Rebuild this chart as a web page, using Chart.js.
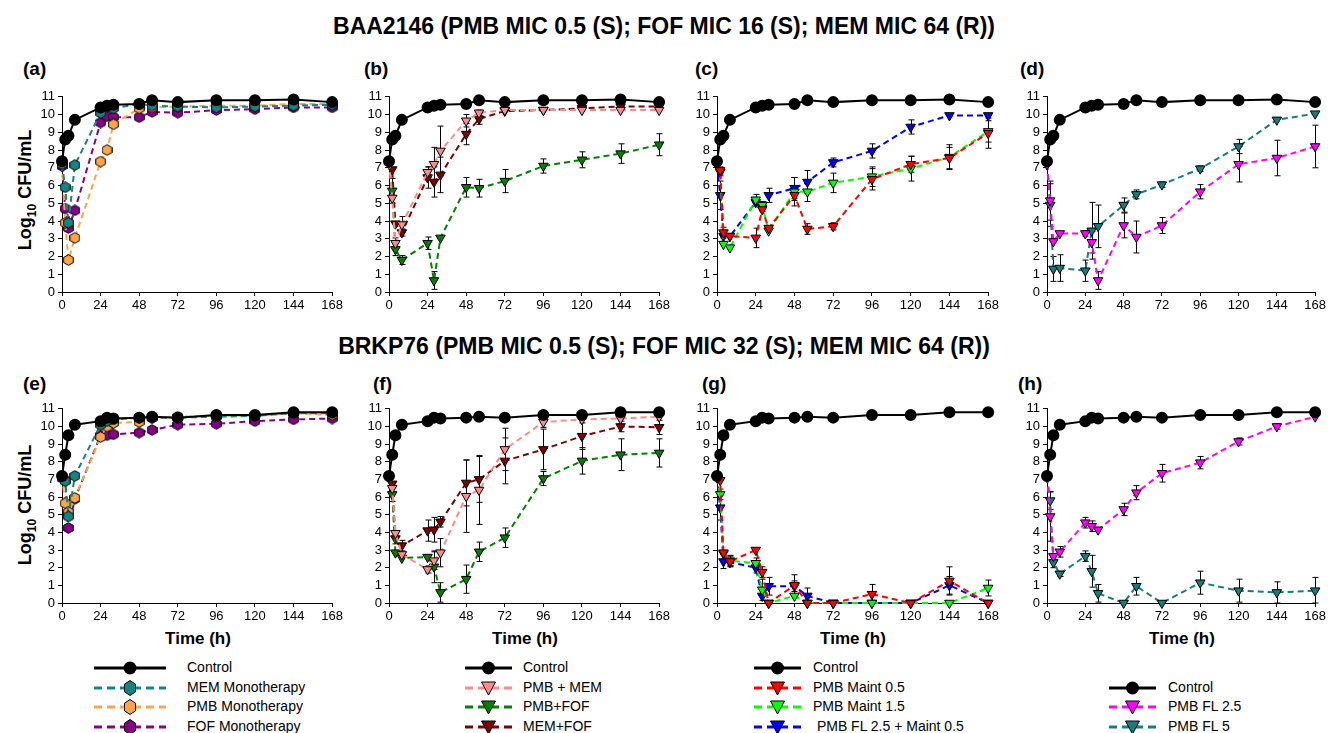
<!DOCTYPE html>
<html>
<head>
<meta charset="utf-8">
<script src="https://cdn.jsdelivr.net/npm/chart.js@4.4.1/dist/chart.umd.min.js"></script>
<style>
  body { margin: 0; width: 1328px; height: 733px; background: #fff; position: relative; overflow: hidden;
         font-family: "Liberation Sans", Arial, sans-serif; color: #000; }
  .abs { position: absolute; white-space: nowrap; }
  .title { font-weight: bold; font-size: 23px; left: 0; width: 1328px; text-align: center; }
  .tag { font-weight: bold; font-size: 19px; }
  .ylab { font-weight: bold; font-size: 18px; transform: translate(-50%, -50%) rotate(-90deg); }
  .xlab { font-weight: bold; font-size: 17px; transform: translateX(-50%); }
  .leg { font-size: 14px; }
  canvas { position: absolute; }
</style>
</head>
<body>
<div class="abs title" style="top:13px">BAA2146 (PMB MIC 0.5 (S); FOF MIC 16 (S); MEM MIC 64 (R))</div>
<div class="abs title" style="top:333px">BRKP76 (PMB MIC 0.5 (S); FOF MIC 32 (S); MEM MIC 64 (R))</div>

<div class="abs tag" style="left:23px;top:58px">(a)</div>
<div class="abs tag" style="left:364px;top:58px">(b)</div>
<div class="abs tag" style="left:695px;top:58px">(c)</div>
<div class="abs tag" style="left:1020px;top:58px">(d)</div>
<div class="abs tag" style="left:23px;top:373px">(e)</div>
<div class="abs tag" style="left:373px;top:373px">(f)</div>
<div class="abs tag" style="left:702px;top:373px">(g)</div>
<div class="abs tag" style="left:1018px;top:373px">(h)</div>

<div class="abs ylab" style="left:27px;top:190px">Log<sub style="font-size:12px">10</sub> CFU/mL</div>
<div class="abs ylab" style="left:27px;top:505px">Log<sub style="font-size:12px">10</sub> CFU/mL</div>

<div class="abs xlab" style="left:198px;top:629px">Time (h)</div>
<div class="abs xlab" style="left:525px;top:629px">Time (h)</div>
<div class="abs xlab" style="left:853px;top:629px">Time (h)</div>
<div class="abs xlab" style="left:1182px;top:629px">Time (h)</div>

<script>
// sampling times (h)
const hours = [0, 2, 4, 8, 24, 28, 32, 48, 56, 72, 96, 120, 144, 168];
const xTicks = [0, 24, 48, 72, 96, 120, 144, 168];

// BAA2146
const baaControl = [7.37, 8.6, 8.8, 9.7, 10.4, 10.5, 10.55, 10.6, 10.8, 10.7, 10.8, 10.8, 10.85, 10.7];
const aMemMono = [7.2, 5.9, 3.9, 7.15, 10.1, 10.45, 10.35, 10.6, 10.5, 10.45, 10.4, 10.45, 10.5, 10.55];
const aPmbMono = [7.2, 3.9, 1.8, 3.05, 7.35, 8.0, 9.45, 10.35, 10.4, 10.45, 10.5, 10.5, 10.6, 10.6];
const aFofMono = [7.1, 4.7, 3.6, 4.6, 9.55, 9.9, 9.85, 9.85, 10.15, 10.1, 10.25, 10.3, 10.4, 10.4];

const bPmbMem = [7.3, 5.3, 2.75, 3.8, 6.75, 7.2, 7.95, 9.65, 10.1, 10.25, 10.25, 10.25, 10.25, 10.25];
const bPmbMemErr = [0, 0, 0.3, 0.45, 0.3, 0.95, 1.4, 0.35, 0.15, 0, 0, 0, 0, 0];
const bPmbFof = [7.3, 5.7, 2.4, 1.8, 2.75, 0.65, 3.05, 5.9, 5.85, 6.25, 7.1, 7.45, 7.8, 8.3];
const bPmbFofErr = [0, 0.7, 0.35, 0.25, 0.35, 0.5, 0, 0.55, 0.5, 0.65, 0.4, 0.45, 0.55, 0.62];
const bMemFof = [7.3, 6.9, 3.85, 3.35, 6.45, 6.2, 6.6, 8.9, 9.75, 10.2, 10.25, 10.35, 10.45, 10.45];
const bMemFofErr = [0, 0, 0, 0.2, 0.6, 0.85, 1.0, 0.6, 0.3, 0, 0, 0, 0, 0];

const cMaint05 = [7.2, 6.85, 3.35, 3.15, 3.05, 4.65, 3.6, 5.45, 3.55, 3.7, 6.35, 7.2, 7.55, 8.95];
const cMaint05Err = [0, 0.2, 0.3, 0, 0.55, 0, 0, 0.3, 0.3, 0.2, 0.6, 0.45, 0.6, 0.85];
const cMaint15 = [7.25, 6.75, 2.7, 2.5, 5.2, 4.9, 3.45, 5.65, 5.65, 6.15, 6.5, 6.95, 7.6, 9.05];
const cMaint15Err = [0, 0.2, 0, 0, 0.3, 0.2, 0, 0.8, 0.55, 0.55, 0.55, 0.7, 0.7, 0.6];
const cFlMaint = [7.15, 5.45, 3.15, 3.15, 5.05, 4.75, 5.45, 5.85, 6.2, 7.3, 7.95, 9.3, 9.95, 9.95];
const cFlMaintErr = [0, 0.8, 0.3, 0, 0, 0.2, 0.4, 0.6, 0.65, 0.25, 0.4, 0.4, 0, 0];

const dFl25 = [7.2, 5.15, 2.85, 3.3, 3.3, 2.8, 0.65, 3.75, 3.1, 3.75, 5.65, 7.2, 7.55, 8.2];
const dFl25Err = [0, 1.1, 0, 0, 0.15, 0.6, 0.5, 0.7, 0.9, 0.45, 0.4, 1.0, 1.0, 1.2];
const dFl5 = [7.2, 4.9, 1.3, 1.35, 1.2, 3.45, 3.7, 4.9, 5.5, 6.05, 6.95, 8.2, 9.7, 10.05];
const dFl5Err = [0, 1.2, 0.7, 0.75, 0.6, 1.6, 1.2, 0.4, 0.25, 0.15, 0.15, 0.4, 0, 0];

// BRKP76
const brkControl = [7.2, 8.4, 9.5, 10.1, 10.3, 10.5, 10.45, 10.5, 10.55, 10.5, 10.65, 10.65, 10.8, 10.8];
const eMemMono = [7.1, 6.9, 4.9, 7.2, 10.1, 10.3, 10.4, 10.5, 10.5, 10.5, 10.55, 10.6, 10.75, 10.75];
const ePmbMono = [7.15, 5.65, 5.15, 5.95, 9.4, 10.0, 10.2, 10.25, 10.5, 10.55, 10.6, 10.6, 10.75, 10.65];
const eFofMono = [7.1, 6.95, 4.25, 5.9, 9.5, 9.5, 9.55, 9.65, 9.8, 10.1, 10.15, 10.3, 10.4, 10.45];

const fPmbMem = [7.2, 6.5, 3.95, 2.75, 1.9, 2.4, 2.85, 6.05, 6.4, 8.7, 10.25, 10.4, 10.45, 10.55];
const fPmbMemErr = [0, 0, 0, 0, 0.2, 0.5, 0.8, 2.05, 1.95, 1.2, 0.3, 0, 0, 0];
const fPmbFof = [7.15, 6.15, 2.85, 2.55, 2.6, 2.05, 0.6, 1.35, 2.9, 3.7, 7.05, 8.05, 8.4, 8.5];
const fPmbFofErr = [0, 0.4, 0, 0, 0, 0.9, 0.55, 0.8, 0.55, 0.55, 0.4, 0.75, 0.9, 0.8];
const fMemFof = [7.2, 6.75, 3.65, 3.25, 4.1, 4.15, 4.6, 6.8, 7.0, 8.05, 8.7, 9.45, 10.0, 9.95];
const fMemFofErr = [0, 0, 0.3, 0.3, 0.6, 0.7, 0.3, 1.3, 1.3, 1.3, 1.15, 0.75, 0.3, 0.4];

const gMaint05 = [7.15, 6.95, 2.85, 2.35, 3.0, 1.75, 0, 1.0, 0, 0, 0.5, 0, 1.25, 0];
const gMaint05Err = [0, 0, 0, 0.3, 0, 0.3, 0, 0.6, 0, 0, 0.55, 0, 0.8, 0];
const gMaint15 = [7.1, 6.15, 2.8, 2.4, 2.25, 0.75, 0, 0.4, 0, 0, 0, 0, 0, 0.85];
const gMaint15Err = [0, 0.3, 0, 0.3, 0.3, 0.6, 0, 0, 0, 0, 0, 0, 0, 0.45];
const gFlMaint = [7.15, 5.4, 2.35, 2.3, 2.0, 0.4, 0.95, 0.95, 0.4, 0, 0, 0, 1.0, 0];
const gFlMaintErr = [0, 0.7, 0.4, 0.2, 0.3, 0, 0.5, 0.3, 0.45, 0, 0, 0, 0.5, 0];

const hFl25 = [7.15, 4.9, 2.65, 2.9, 4.55, 4.35, 4.15, 5.3, 6.25, 7.35, 7.95, 9.15, 10.0, 10.55];
const hFl25Err = [0, 1.4, 0, 0.3, 0.3, 0.3, 0, 0.35, 0.4, 0.5, 0.35, 0.2, 0.15, 0];
const hFl5 = [7.15, 5.8, 2.3, 1.65, 2.65, 1.8, 0.55, 0, 0.95, 0, 1.15, 0.7, 0.6, 0.7];
const hFl5Err = [0, 0.5, 0.3, 0.15, 0.3, 0.9, 0.5, 0, 0.5, 0, 0.65, 0.65, 0.6, 0.75];

const colors = {
  teal: '#138585', orange: '#ffa545', purple: '#850085',
  pink: '#ff8c8c', green: '#008000', darkred: '#800000',
  red: '#ff0000', lime: '#00ff00', blue: '#0000ff',
  magenta: '#ff00ff', fl5: '#167c7c'
};

function hexagon(color, w, h) {
  const c = document.createElement('canvas');
  c.width = w; c.height = h;
  const g = c.getContext('2d');
  const cx = w / 2, cy = h / 2, rx = w / 2 - 0.7, ry = h / 2 - 0.7;
  g.beginPath();
  g.moveTo(cx, cy - ry);
  g.lineTo(cx + rx, cy - ry / 2);
  g.lineTo(cx + rx, cy + ry / 2);
  g.lineTo(cx, cy + ry);
  g.lineTo(cx - rx, cy + ry / 2);
  g.lineTo(cx - rx, cy - ry / 2);
  g.closePath();
  g.fillStyle = color; g.fill();
  g.strokeStyle = '#000'; g.lineWidth = 1; g.stroke();
  return c;
}

function controlSet(vals) {
  return {
    data: hours.map((h, i) => ({ x: h, y: vals[i] })),
    clip: false,
    borderColor: '#000', backgroundColor: '#000', borderWidth: 2,
    pointStyle: 'circle', pointRadius: 5, pointBorderColor: '#000', pointBackgroundColor: '#000'
  };
}
function hexSet(vals, color) {
  return {
    data: hours.map((h, i) => ({ x: h, y: vals[i] })),
    clip: false,
    borderColor: color, borderWidth: 2, borderDash: [6, 4],
    pointStyle: hexagon(color, 11, 12), pointRadius: 6
  };
}
function triSet(vals, errs, color) {
  return {
    data: hours.map((h, i) => ({ x: h, y: vals[i] })),
    errors: errs,
    clip: false,
    borderColor: color, borderWidth: 2, borderDash: [6, 4],
    pointStyle: 'triangle', pointRotation: 180, pointRadius: 5.5,
    pointBackgroundColor: color, pointBorderColor: '#000', pointBorderWidth: 1
  };
}

const errorBars = {
  id: 'errorBars',
  beforeDatasetsDraw(chart) {
    const { ctx, scales: { x, y } } = chart;
    ctx.save();
    ctx.strokeStyle = '#000';
    ctx.lineWidth = 1;
    chart.data.datasets.forEach(ds => {
      if (!ds.errors) return;
      ds.data.forEach((p, i) => {
        const e = ds.errors[i];
        if (!e) return;
        const px = Math.round(x.getPixelForValue(p.x)) + 0.5;
        const t = y.getPixelForValue(p.y + e);
        const b = y.getPixelForValue(Math.max(0, p.y - e));
        ctx.beginPath();
        ctx.moveTo(px, t); ctx.lineTo(px, b);
        ctx.moveTo(px - 3, t); ctx.lineTo(px + 3, t);
        ctx.moveTo(px - 3, b); ctx.lineTo(px + 3, b);
        ctx.stroke();
      });
    });
    ctx.restore();
  }
};

const axisFont = { family: '"Liberation Sans", Arial, sans-serif', size: 13 };

function makePanel(box, datasets) {
  const [x0, x1, yt, yb] = box;
  const cv = document.createElement('canvas');
  const padL = 45, padR = 12, padT = 9, padB = 22;
  cv.width = x1 - x0 + padL + padR;
  cv.height = yb - yt + padT + padB;
  cv.style.left = (x0 - padL) + 'px';
  cv.style.top = (yt - padT) + 'px';
  document.body.appendChild(cv);
  new Chart(cv, {
    type: 'line',
    data: { datasets },
    options: {
      responsive: false,
      animation: false,
      layout: { padding: { top: padT, right: padR, left: 0, bottom: 0 } },
      plugins: { legend: { display: false }, tooltip: { enabled: false } },
      scales: {
        x: {
          type: 'linear', min: 0, max: 168,
          afterBuildTicks: s => { s.ticks = xTicks.map(v => ({ value: v })); },
          afterFit: s => { s.height = padB; },
          ticks: { color: '#000', font: axisFont, padding: 2, maxRotation: 0, autoSkip: false },
          grid: { drawOnChartArea: false, drawTicks: true, tickLength: 4, color: '#000' },
          border: { color: '#000', width: 1 }
        },
        y: {
          min: 0, max: 11,
          afterFit: s => { s.width = padL; },
          ticks: { stepSize: 1, color: '#000', font: axisFont, padding: 3, autoSkip: false },
          grid: { drawOnChartArea: false, drawTicks: true, tickLength: 4, color: '#000' },
          border: { color: '#000', width: 1 }
        }
      }
    },
    plugins: [errorBars]
  });
}

makePanel([62, 333, 95, 292], [controlSet(baaControl), hexSet(aMemMono, colors.teal), hexSet(aPmbMono, colors.orange), hexSet(aFofMono, colors.purple)]);
makePanel([389, 660, 95, 292], [controlSet(baaControl), triSet(bPmbMem, bPmbMemErr, colors.pink), triSet(bPmbFof, bPmbFofErr, colors.green), triSet(bMemFof, bMemFofErr, colors.darkred)]);
makePanel([717, 989, 95, 292], [controlSet(baaControl), triSet(cMaint05, cMaint05Err, colors.red), triSet(cMaint15, cMaint15Err, colors.lime), triSet(cFlMaint, cFlMaintErr, colors.blue)]);
makePanel([1047, 1316, 95, 292], [controlSet(baaControl), triSet(dFl25, dFl25Err, colors.magenta), triSet(dFl5, dFl5Err, colors.fl5)]);

makePanel([62, 333, 407, 603], [controlSet(brkControl), hexSet(eMemMono, colors.teal), hexSet(ePmbMono, colors.orange), hexSet(eFofMono, colors.purple)]);
makePanel([389, 660, 407, 603], [controlSet(brkControl), triSet(fPmbMem, fPmbMemErr, colors.pink), triSet(fPmbFof, fPmbFofErr, colors.green), triSet(fMemFof, fMemFofErr, colors.darkred)]);
makePanel([717, 989, 407, 603], [controlSet(brkControl), triSet(gMaint05, gMaint05Err, colors.red), triSet(gMaint15, gMaint15Err, colors.lime), triSet(gFlMaint, gFlMaintErr, colors.blue)]);
makePanel([1047, 1316, 407, 603], [controlSet(brkControl), triSet(hFl25, hFl25Err, colors.magenta), triSet(hFl5, hFl5Err, colors.fl5)]);

// legends
const NS = 'http://www.w3.org/2000/svg';
function legendItem(x0, len, textX, cy, label, color, marker) {
  const svg = document.createElementNS(NS, 'svg');
  svg.setAttribute('width', len + 4); svg.setAttribute('height', 18);
  svg.style.position = 'absolute';
  svg.style.left = (x0 - 2) + 'px';
  svg.style.top = (cy - 9) + 'px';
  const mid = len / 2 + 2;
  const line = document.createElementNS(NS, 'line');
  line.setAttribute('x1', 2); line.setAttribute('x2', len + 2);
  line.setAttribute('y1', 9); line.setAttribute('y2', 9);
  line.setAttribute('stroke', color); line.setAttribute('stroke-width', 3);
  if (marker !== 'control') line.setAttribute('stroke-dasharray', '8 5');
  svg.appendChild(line);
  let m;
  if (marker === 'control') {
    m = document.createElementNS(NS, 'circle');
    m.setAttribute('cx', mid); m.setAttribute('cy', 9); m.setAttribute('r', 6.5);
    m.setAttribute('fill', '#000');
  } else if (marker === 'hex') {
    m = document.createElementNS(NS, 'polygon');
    const pts = [[0, -7.5], [5.5, -3.8], [5.5, 3.8], [0, 7.5], [-5.5, 3.8], [-5.5, -3.8]];
    m.setAttribute('points', pts.map(p => (mid + p[0]) + ',' + (9 + p[1])).join(' '));
    m.setAttribute('fill', color); m.setAttribute('stroke', '#000'); m.setAttribute('stroke-width', 1);
  } else {
    m = document.createElementNS(NS, 'polygon');
    const pts = [[-7, -6], [7, -6], [0, 7]];
    m.setAttribute('points', pts.map(p => (mid + p[0]) + ',' + (9 + p[1])).join(' '));
    m.setAttribute('fill', color); m.setAttribute('stroke', '#000'); m.setAttribute('stroke-width', 1);
  }
  svg.appendChild(m);
  document.body.appendChild(svg);
  const t = document.createElement('div');
  t.className = 'abs leg';
  t.style.left = textX + 'px';
  t.style.top = (cy - 9) + 'px';
  t.textContent = label;
  document.body.appendChild(t);
}

const legRows = [668, 688, 707, 727];
legendItem(94, 72, 187, legRows[0], 'Control', '#000', 'control');
legendItem(94, 72, 187, legRows[1], 'MEM Monotherapy', colors.teal, 'hex');
legendItem(94, 72, 187, legRows[2], 'PMB Monotherapy', colors.orange, 'hex');
legendItem(94, 72, 187, legRows[3], 'FOF Monotherapy', colors.purple, 'hex');

legendItem(465, 47, 523, legRows[0], 'Control', '#000', 'control');
legendItem(465, 47, 523, legRows[1], 'PMB + MEM', colors.pink, 'tri');
legendItem(465, 47, 523, legRows[2], 'PMB+FOF', colors.green, 'tri');
legendItem(465, 47, 523, legRows[3], 'MEM+FOF', colors.darkred, 'tri');

legendItem(754, 47, 813, legRows[0], 'Control', '#000', 'control');
legendItem(754, 47, 813, legRows[1], 'PMB Maint 0.5', colors.red, 'tri');
legendItem(754, 47, 813, legRows[2], 'PMB Maint 1.5', colors.lime, 'tri');
legendItem(754, 47, 813, legRows[3], '\u00a0PMB FL 2.5 + Maint 0.5', colors.blue, 'tri');

legendItem(1109, 47, 1168, legRows[1], 'Control', '#000', 'control');
legendItem(1109, 47, 1168, legRows[2], 'PMB FL 2.5', colors.magenta, 'tri');
legendItem(1109, 47, 1168, legRows[3], 'PMB FL 5', colors.fl5, 'tri');
</script>
</body>
</html>
